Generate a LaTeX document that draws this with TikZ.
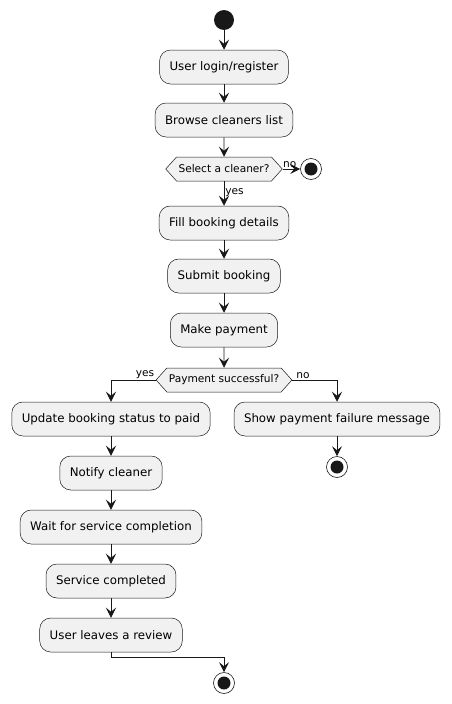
\documentclass[tikz,border=0pt]{standalone}
\usepackage{fontspec}
\setmainfont{DejaVu Sans}
\usepackage{xcolor}
\usetikzlibrary{arrows.meta,shapes.symbols}

\definecolor{actfill}{HTML}{F1F1F1}
\definecolor{ink}{HTML}{181818}

\tikzset{
  activity/.style={draw=ink, line width=0.5pt, fill=actfill, rounded corners=11pt,
    minimum height=34pt, inner xsep=10pt, font=\fontsize{11.8}{14}\selectfont},
  choice/.style={draw=ink, line width=0.5pt, fill=actfill, shape=signal,
    signal to=east and west, signal pointer angle=96, minimum height=24pt,
    inner xsep=2pt, font=\fontsize{10.6}{12}\selectfont},
  startdot/.style={circle, fill=ink, minimum size=20pt, inner sep=0pt},
  enddot/.style={circle, draw=ink, line width=0.6pt, fill=white, minimum size=21pt, inner sep=0pt,
    path picture={\fill[ink] (path picture bounding box.center) circle (6.5pt);}},
  flow/.style={draw=ink, line width=0.8pt, -{Stealth[length=10pt,width=10pt,inset=4pt]}},
  guard/.style={font=\fontsize{10.6}{12}\selectfont, inner sep=1pt}
}

\begin{document}
\begin{tikzpicture}[x=1pt,y=-1pt]
  \useasboundingbox (0,0) rectangle (451,704);

  % Main column
  \node[startdot] (start) at (224,20) {};
  \node[activity] (login) at (224,67) {User login/register};
  \node[activity] (browse) at (224,120) {Browse cleaners list};
  \node[choice] (pick) at (224,169) {Select a cleaner?};
  \node[enddot] (stopA) at (311,169) {};
  \node[activity] (fill) at (224,223) {Fill booking details};
  \node[activity] (submit) at (224,276) {Submit booking};
  \node[activity] (pay) at (224,330) {Make payment};
  \node[choice] (paid) at (224,380) {Payment successful?};

  % yes branch
  \node[activity] (update) at (111,419) {Update booking status to paid};
  \node[activity] (notify) at (111,473) {Notify cleaner};
  \node[activity] (wait) at (111,527) {Wait for service completion};
  \node[activity] (done) at (111,581) {Service completed};
  \node[activity] (review) at (111,635) {User leaves a review};
  \node[enddot] (stopC) at (224,683) {};

  % no branch
  \node[activity] (fail) at (337,419) {Show payment failure message};
  \node[enddot] (stopB) at (337,467) {};

  % Connectors
  \draw[flow] (start) -- (login);
  \draw[flow] (login) -- (browse);
  \draw[flow] (browse) -- (pick);
  \draw[flow] (pick.east) -- node[guard, above, pos=0.4] {no} (stopA);
  \draw[flow] (pick.south) -- node[guard, right, pos=0.45] {yes} (fill);
  \draw[flow] (fill) -- (submit);
  \draw[flow] (submit) -- (pay);
  \draw[flow] (pay) -- (paid);
  \draw[flow] (paid.west) -| node[guard, above, pos=0.12] {yes} (update.north);
  \draw[flow] (paid.east) -| node[guard, above, pos=0.12] {no} (fail.north);
  \draw[flow] (fail) -- (stopB);
  \draw[flow] (update) -- (notify);
  \draw[flow] (notify) -- (wait);
  \draw[flow] (wait) -- (done);
  \draw[flow] (done) -- (review);
  \draw[flow] (review.south) -- ++(0,5) -| (stopC.north);
\end{tikzpicture}
\end{document}
